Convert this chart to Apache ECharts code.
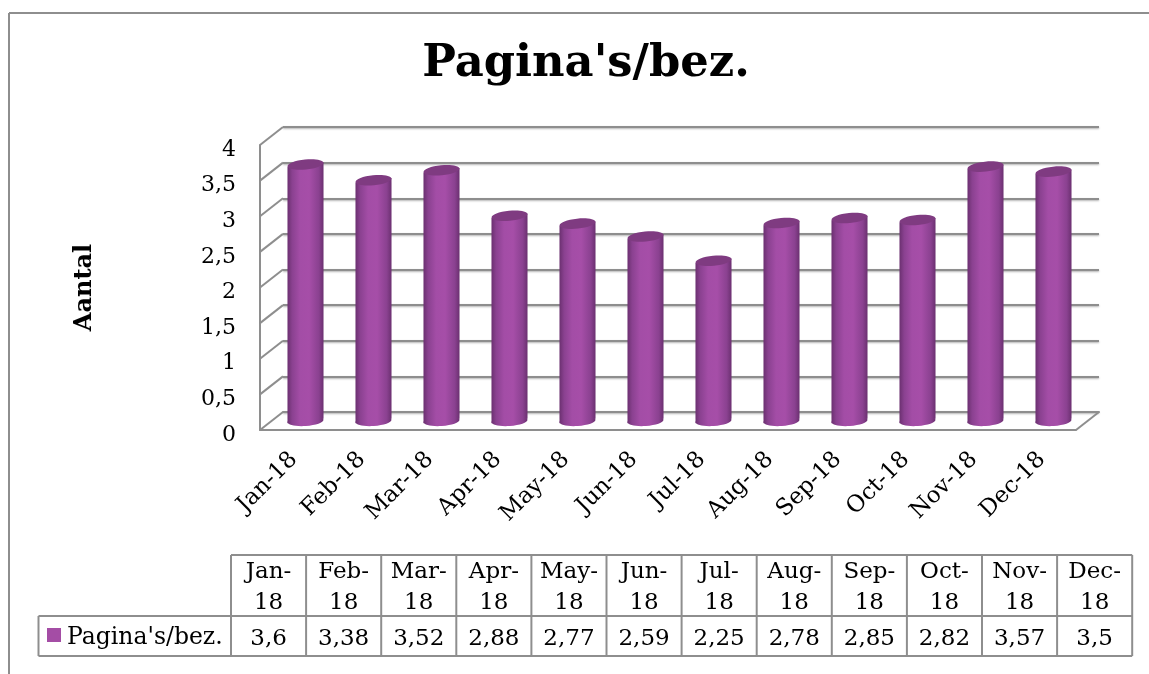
<!DOCTYPE html>
<html>
<head>
<meta charset="utf-8">
<style>
  html, body { margin: 0; padding: 0; background: #fff; }
  #chart { width: 1149px; height: 674px; }
</style>
<script src="https://cdn.jsdelivr.net/npm/echarts@6/dist/echarts.min.js"></script>
</head>
<body>
<div id="chart"></div>
<script>
const seriesName = "Pagina's/bez.";
const categories = ['Jan-18', 'Feb-18', 'Mar-18', 'Apr-18', 'May-18', 'Jun-18', 'Jul-18', 'Aug-18', 'Sep-18', 'Oct-18', 'Nov-18', 'Dec-18'];
const values = [3.6, 3.38, 3.52, 2.88, 2.77, 2.59, 2.25, 2.78, 2.85, 2.82, 3.57, 3.5];
const yTicks = [0, 0.5, 1, 1.5, 2, 2.5, 3, 3.5, 4];

const FONT = '"DejaVu Serif", serif';
const GREY = '#8e8e8e';
const DEPTH_X = 23;   // front plane -> back wall
const DEPTH_Y = -18;

const comma = (v) => String(v).replace('.', ',');

const cylinderFill = {
  type: 'linear', x: 0, y: 0, x2: 1, y2: 0,
  colorStops: [
    { offset: 0, color: '#6b3070' },
    { offset: 0.13, color: '#8a4190' },
    { offset: 0.35, color: '#a34da6' },
    { offset: 0.6, color: '#a64ea8' },
    { offset: 0.87, color: '#8a4190' },
    { offset: 1, color: '#6b3070' }
  ]
};

// one cylinder, standing halfway between the front plane and the back wall
function renderCylinder(params, api) {
  const top = api.coord([api.value(0), api.value(1)]);
  const base = api.coord([api.value(0), 0]);
  const r = api.size([1, 0])[0] * 0.265;
  const ry = 5;
  const tilt = 2.2;
  const cx = top[0] + DEPTH_X / 2;
  const ty = top[1] + DEPTH_Y / 2;
  const by = base[1] + DEPTH_Y / 2;
  return {
    type: 'group',
    children: [
      {
        type: 'ellipse',
        originX: cx, originY: by, rotation: 0.07,
        shape: { cx: cx, cy: by, rx: r, ry: ry },
        style: { fill: cylinderFill }
      },
      {
        type: 'polygon',
        shape: { points: [[cx - r, ty + tilt], [cx + r, ty - tilt], [cx + r, by - tilt], [cx - r, by + tilt]] },
        style: { fill: cylinderFill }
      },
      {
        type: 'ellipse',
        originX: cx, originY: ty, rotation: 0.1,
        shape: { cx: cx, cy: ty, rx: r, ry: ry },
        style: { fill: '#7f3b81' }
      }
    ]
  };
}

// diagonal from the front of the left wall to the back wall
function renderWallTick(params, api) {
  const p = api.coord([0, api.value(0)]);
  const x = params.coordSys.x;
  return {
    type: 'line',
    shape: { x1: x, y1: p[1], x2: x + DEPTH_X, y2: p[1] + DEPTH_Y },
    style: { stroke: GREY, lineWidth: 2 }
  };
}

function renderFloorEdge(params, api) {
  const p = api.coord([0, 0]);
  const x = params.coordSys.x + params.coordSys.width;
  return {
    type: 'line',
    shape: { x1: x, y1: p[1], x2: x + DEPTH_X, y2: p[1] + DEPTH_Y },
    style: { stroke: GREY, lineWidth: 2 }
  };
}

// data table below the chart
const TABLE_LEFT = 38.5;
const TABLE_X0 = 231;
const COL_W = 75.1;
const ROW_TOP = 555;
const ROW_MID = 616;
const ROW_BOTTOM = 656;

function tableGraphics() {
  const items = [];
  const line = (x1, y1, x2, y2) => items.push({
    type: 'line', z: 5,
    shape: { x1: x1, y1: y1, x2: x2, y2: y2 },
    style: { stroke: GREY, lineWidth: 2 }
  });
  const right = TABLE_X0 + COL_W * categories.length;
  line(TABLE_X0, ROW_TOP, right, ROW_TOP);
  line(TABLE_LEFT, ROW_MID, right, ROW_MID);
  line(TABLE_LEFT, ROW_BOTTOM, right, ROW_BOTTOM);
  line(TABLE_LEFT, ROW_MID, TABLE_LEFT, ROW_BOTTOM);
  for (let i = 0; i <= categories.length; i++) {
    const x = TABLE_X0 + COL_W * i;
    line(x, ROW_TOP, x, ROW_BOTTOM);
  }
  categories.forEach((c, i) => {
    const parts = c.split('-');
    items.push({
      type: 'text', z: 6,
      style: {
        x: TABLE_X0 + COL_W * (i + 0.5), y: (ROW_TOP + ROW_MID) / 2 + 2,
        text: parts[0] + '-\n' + parts[1],
        font: '23px ' + FONT, fill: '#000', align: 'center', verticalAlign: 'middle', lineHeight: 31
      }
    });
    items.push({
      type: 'text', z: 6,
      style: {
        x: TABLE_X0 + COL_W * (i + 0.5), y: (ROW_MID + ROW_BOTTOM) / 2 + 3,
        text: comma(values[i]),
        font: '23px ' + FONT, fill: '#000', align: 'center', verticalAlign: 'middle'
      }
    });
  });
  items.push({
    type: 'rect', z: 6,
    shape: { x: 47, y: 628, width: 14, height: 14 },
    style: { fill: '#a44da5' }
  });
  items.push({
    type: 'text', z: 6,
    style: {
      x: 67, y: (ROW_MID + ROW_BOTTOM) / 2 + 2, text: seriesName,
      font: '23.5px ' + FONT, fill: '#000', align: 'left', verticalAlign: 'middle'
    }
  });
  // chart frame: only top and left are inside the picture
  line(9, 13, 1149, 13);
  line(9, 13, 9, 674);
  return items;
}

const chart = echarts.init(document.getElementById('chart'));
chart.setOption({
  animation: false,
  backgroundColor: '#fff',
  title: {
    text: seriesName, left: 581, top: 37, textAlign: 'center',
    textStyle: { fontFamily: FONT, fontSize: 44.8, fontWeight: 'bold', color: '#000' }
  },
  grid: [
    { left: 260, top: 145, width: 816, height: 285 },
    { left: 283, top: 127, width: 816, height: 285 }
  ],
  xAxis: [
    {
      type: 'category', gridIndex: 0, data: categories,
      axisTick: { show: false },
      axisLine: { lineStyle: { color: GREY, width: 2 } },
      axisLabel: { interval: 0, rotate: 45, margin: 26, fontFamily: FONT, fontSize: 23, color: '#000' }
    },
    {
      type: 'category', gridIndex: 1, data: categories,
      axisTick: { show: false }, axisLabel: { show: false },
      axisLine: { lineStyle: { color: GREY, width: 2 } }
    }
  ],
  yAxis: [
    {
      type: 'value', gridIndex: 0, min: 0, max: 4, interval: 0.5,
      name: 'Aantal', nameLocation: 'middle', nameRotate: 90, nameGap: 163,
      nameTextStyle: { fontFamily: FONT, fontSize: 24, fontWeight: 'bold', color: '#000' },
      axisLine: { show: true, lineStyle: { color: GREY, width: 2 } },
      axisTick: { show: false },
      splitLine: { show: false },
      axisLabel: {
        margin: 24,
        formatter: (v) => '{t|' + comma(v) + '}',
        rich: { t: { fontFamily: FONT, fontSize: 22, color: '#000', padding: [10, 0, 0, 0] } }
      }
    },
    {
      type: 'value', gridIndex: 1, min: 0, max: 4, interval: 0.5,
      axisLine: { show: false }, axisTick: { show: false }, axisLabel: { show: false },
      splitLine: { show: true, lineStyle: { color: GREY, width: 2, shadowColor: 'rgba(0,0,0,0.3)', shadowBlur: 2, shadowOffsetY: 1 } }
    }
  ],
  series: [
    {
      type: 'custom', name: 'wall', xAxisIndex: 0, yAxisIndex: 0, z: 1,
      coordinateSystem: 'cartesian2d', silent: true,
      encode: { y: 0 },
      data: yTicks.map((t) => [t]),
      renderItem: renderWallTick
    },
    {
      type: 'custom', name: 'floor', xAxisIndex: 0, yAxisIndex: 0, z: 1,
      coordinateSystem: 'cartesian2d', silent: true,
      data: [[0]],
      renderItem: renderFloorEdge
    },
    {
      type: 'custom', name: seriesName, xAxisIndex: 0, yAxisIndex: 0, z: 3,
      coordinateSystem: 'cartesian2d',
      encode: { x: 0, y: 1 },
      data: values.map((v, i) => [i, v]),
      renderItem: renderCylinder
    }
  ],
  graphic: tableGraphics()
});
</script>
</body>
</html>
